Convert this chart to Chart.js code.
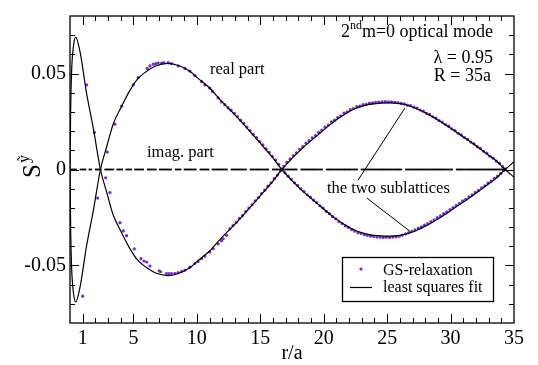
<!DOCTYPE html>
<html>
<head>
<meta charset="utf-8">
<script src="https://cdn.jsdelivr.net/npm/chart.js@4/dist/chart.umd.min.js"></script>
<style>
  html, body { margin: 0; padding: 0; background: #fff; overflow: hidden; }
  canvas { display: block; }
</style>
</head>
<body>
<canvas id="c" width="538" height="365"></canvas>
<script>
// ---- least squares fit, the two sublattices (r/a, S^y) ----
const fitR = [0, 0.05, 0.12, 0.25, 0.45, 0.8, 1.3, 1.85, 2.4, 2.9, 3.4, 4.0, 4.7, 5.3, 6.0, 6.7, 7.7, 8.7, 9.5, 10.0,
  11.0, 12.0, 13.0, 14.0, 15.0, 16.0, 16.7, 17.5, 18.5, 19.5, 20.5, 21.5, 22.5, 23.5, 24.5, 25.2, 26.0, 27.0, 28.0,
  29.0, 30.0, 31.0, 32.0, 33.0, 33.6, 34.3, 35.0];
const fitA = [0, 0.030, 0.050, 0.063, 0.069, 0.061, 0.040, 0.021, 0, -0.012, -0.0236, -0.032, -0.041, -0.047, -0.051,
  -0.0538, -0.0553, -0.0538, -0.051, -0.048, -0.0425, -0.0352, -0.0285, -0.0212, -0.0137, -0.006, 0, 0.0058, 0.0122,
  0.0178, 0.0234, 0.0282, 0.0318, 0.0338, 0.0346, 0.0347, 0.0343, 0.0326, 0.0296, 0.0258, 0.0215, 0.017, 0.0124,
  0.0074, 0.0046, 0, -0.0040];
const fitB = [0, -0.030, -0.050, -0.063, -0.069, -0.061, -0.040, -0.021, 0, 0.012, 0.0236, 0.032, 0.041, 0.047, 0.051,
  0.0538, 0.0553, 0.0538, 0.051, 0.048, 0.0425, 0.0352, 0.0285, 0.0212, 0.0137, 0.006, 0, -0.0058, -0.0122,
  -0.0178, -0.0234, -0.0282, -0.0318, -0.0338, -0.0346, -0.0347, -0.0343, -0.0326, -0.0296, -0.0258, -0.0215, -0.017,
  -0.0124, -0.0074, -0.0046, 0, 0.0040];

// ---- GS-relaxation, sublattice A ----
const gsAR = [1.31, 1.92, 2.81, 3.15, 3.94, 4.2, 4.46, 5.07, 5.59, 5.83, 6.04, 6.3, 7.03, 7.14, 7.61, 7.8, 8.0, 8.27,
  8.53, 8.8, 9.06, 9.45, 9.84, 10.1, 10.37, 10.63, 11.02, 11.29, 11.68, 11.94, 12.07, 12.34,
  12.6, 12.85, 13.1, 13.35, 13.6, 13.85, 14.1, 14.35, 14.6, 14.85, 15.1, 15.35, 15.6, 15.85, 16.1, 16.35, 16.6, 16.85,
  17.1, 17.35, 17.6, 17.85, 18.1, 18.35, 18.6, 18.85, 19.1, 19.35, 19.6, 19.85, 20.1, 20.35, 20.6, 20.85, 21.1, 21.35,
  21.6, 21.85, 22.1, 22.35, 22.6, 22.85, 23.1, 23.35, 23.6, 23.85, 24.1, 24.35, 24.6, 24.85, 25.1, 25.35, 25.6, 25.85,
  26.1, 26.35, 26.6, 26.85, 27.1, 27.35, 27.6, 27.85, 28.1, 28.35, 28.6, 28.85, 29.1, 29.35, 29.6, 29.85, 30.1, 30.35,
  30.6, 30.85, 31.1, 31.35, 31.6, 31.85, 32.1, 32.35, 32.6, 32.85, 33.1, 33.35, 33.6, 33.85, 34.1, 34.3];
const gsAS = [0.0441, 0.0193, -0.0043, -0.0120, -0.0277, -0.0320, -0.0345, -0.0414, -0.0465, -0.0477, -0.0482, -0.0503,
  -0.0528, -0.0533, -0.0542, -0.0543, -0.0542, -0.0541, -0.0537, -0.0531, -0.0524, -0.0509, -0.0490, -0.0479, -0.0465,
  -0.0451, -0.0430, -0.0413, -0.0388, -0.0371, -0.0361, -0.0343,
  -0.0309, -0.0292, -0.0276, -0.0255, -0.0240, -0.0219, -0.0201, -0.0184, -0.0163, -0.0146, -0.0125, -0.0108, -0.0087,
  -0.0069, -0.0048, -0.0029, -0.0007, 0.0016, 0.0037, 0.0055, 0.0073, 0.0087, 0.0105, 0.0119, 0.0138, 0.0150, 0.0165,
  0.0177, 0.0193, 0.0205, 0.0221, 0.0232, 0.0248, 0.0257, 0.0271, 0.0280, 0.0294, 0.0300, 0.0312, 0.0318, 0.0328,
  0.0331, 0.0338, 0.0340, 0.0346, 0.0347, 0.0350, 0.0351, 0.0352, 0.0354, 0.0352, 0.0353, 0.0350, 0.0349, 0.0345,
  0.0342, 0.0336, 0.0333, 0.0325, 0.0320, 0.0310, 0.0304, 0.0293, 0.0287, 0.0275, 0.0268, 0.0255, 0.0247, 0.0234,
  0.0226, 0.0212, 0.0203, 0.0189, 0.0180, 0.0166, 0.0157, 0.0143, 0.0134, 0.0119, 0.0110, 0.0095, 0.0085, 0.0069,
  0.0059, 0.0044, 0.0033, 0.0015, 0.0003];

// ---- GS-relaxation, sublattice B ----
const gsBR = [1.0, 2.18, 2.94, 3.54, 4.07, 4.99, 5.38, 6.09, 6.3, 6.56, 6.77, 6.95, 7.22, 7.4, 7.74, 8.0, 8.53, 9.06,
  9.45, 9.84, 10.37, 10.63, 11.02, 11.23, 11.68, 11.94, 12.2, 12.47,
  12.7, 12.95, 13.2, 13.45, 13.7, 13.95, 14.2, 14.45, 14.7, 14.95, 15.2, 15.45, 15.7, 15.95, 16.2, 16.45, 16.7, 16.95,
  17.2, 17.45, 17.7, 17.95, 18.2, 18.45, 18.7, 18.95, 19.2, 19.45, 19.7, 19.95, 20.2, 20.45, 20.7, 20.95, 21.2, 21.45,
  21.7, 21.95, 22.2, 22.45, 22.7, 22.95, 23.2, 23.45, 23.7, 23.95, 24.2, 24.45, 24.7, 24.95, 25.2, 25.45, 25.7, 25.95,
  26.2, 26.45, 26.7, 26.95, 27.2, 27.45, 27.7, 27.95, 28.2, 28.45, 28.7, 28.95, 29.2, 29.45, 29.7, 29.95, 30.2, 30.45,
  30.7, 30.95, 31.2, 31.45, 31.7, 31.95, 32.2, 32.45, 32.7, 32.95, 33.2, 33.45, 33.7, 33.95, 34.2];
const gsBS = [-0.0660, -0.0149, 0.0091, 0.0236, 0.0330, 0.0441, 0.0479, 0.0527, 0.0540, 0.0549, 0.0552, 0.0555, 0.0555,
  0.0557, 0.0557, 0.0552, 0.0540, 0.0527, 0.0513, 0.0490, 0.0458, 0.0441, 0.0424, 0.0407, 0.0373, 0.0352, 0.0338, 0.0321,
  0.0309, 0.0293, 0.0276, 0.0257, 0.0240, 0.0221, 0.0203, 0.0183, 0.0166, 0.0146, 0.0128, 0.0108, 0.0089, 0.0069,
  0.0049, 0.0027, 0.0002, -0.0017, -0.0035, -0.0051, -0.0069, -0.0083, -0.0101, -0.0115, -0.0132, -0.0144, -0.0160,
  -0.0173, -0.0189, -0.0201, -0.0218, -0.0230, -0.0246, -0.0257, -0.0271, -0.0282, -0.0294, -0.0302, -0.0313, -0.0321,
  -0.0329, -0.0333, -0.0340, -0.0343, -0.0348, -0.0349, -0.0352, -0.0353, -0.0354, -0.0353, -0.0354, -0.0352, -0.0351,
  -0.0348, -0.0342, -0.0336, -0.0329, -0.0322, -0.0315, -0.0306, -0.0299, -0.0290, -0.0282, -0.0271, -0.0263, -0.0251,
  -0.0242, -0.0230, -0.0221, -0.0209, -0.0199, -0.0187, -0.0177, -0.0164, -0.0155, -0.0142, -0.0132, -0.0119, -0.0109,
  -0.0096, -0.0085, -0.0071, -0.0060, -0.0046, -0.0035, -0.0020, -0.0005];

// ---- GS-relaxation, imaginary part (zero at every site) ----
const imagR = [0.15, 0.4, 0.9, 1.15, 1.6, 2.1, 2.35, 2.85, 3.1, 3.35, 3.8, 4.05, 4.5, 4.75, 5.2, 5.45, 5.7, 6.2, 6.45,
  6.7, 7.15, 7.4, 7.65, 7.9, 8.4, 8.65, 9.1, 9.35, 9.6, 9.85, 10.35, 10.6, 10.85, 11.3, 11.55, 11.8, 12.05, 12.3, 12.8,
  13.05, 13.3, 13.55, 13.8, 14.3, 14.55, 14.8, 15.05, 15.3, 15.55, 16.05, 16.3, 16.55, 16.8, 17.05, 17.3, 17.55, 17.8,
  18.3, 18.55, 18.8, 19.05, 19.3, 19.55, 19.8, 20.3, 20.55, 20.8, 21.05, 21.3, 21.55, 21.8, 22.05, 22.3, 22.55, 23.05,
  23.3, 23.55, 23.8, 24.05, 24.3, 24.55, 24.8, 25.05, 25.3, 25.55, 25.8, 26.05, 26.55, 26.8, 27.05, 27.3, 27.55, 27.8,
  28.05, 28.3, 28.55, 28.8, 29.05, 29.3, 29.55, 29.8, 30.05, 30.55, 30.8, 31.05, 31.3, 31.55, 31.8, 32.05, 32.3, 32.55,
  32.8, 33.05, 33.3, 33.55, 33.8, 34.05, 34.25];
const imagLevel = 0;

// ---- axes ----
const xTickLabels = [1, 5, 10, 15, 20, 25, 30, 35];
const yTickLabels = [-0.05, 0, 0.05];
const X_MIN = 0, X_MAX = 35, Y_MIN = -0.08, Y_MAX = 0.08;

const pts = (xs, ys) => xs.map((x, i) => ({ x, y: ys[i] }));
const PURPLE = '#7430c6';
const SERIF = '"Liberation Serif", "Times New Roman", serif';

const decorations = {
  id: 'decorations',
  afterDatasetsDraw(chart) {
    const { ctx, chartArea: a, scales: { x, y } } = chart;
    ctx.save();
    ctx.strokeStyle = '#000';
    ctx.lineWidth = 1;
    // inward ticks on all four sides
    const tick = (px, len, side) => {
      ctx.beginPath();
      if (side === 'b') { ctx.moveTo(px, a.bottom); ctx.lineTo(px, a.bottom - len); }
      if (side === 't') { ctx.moveTo(px, a.top); ctx.lineTo(px, a.top + len); }
      if (side === 'l') { ctx.moveTo(a.left, px); ctx.lineTo(a.left + len, px); }
      if (side === 'r') { ctx.moveTo(a.right, px); ctx.lineTo(a.right - len, px); }
      ctx.stroke();
    };
    for (let v = 1; v < X_MAX; v++) {
      const major = xTickLabels.includes(v);
      const px = Math.round(x.getPixelForValue(v)) + 0.5;
      tick(px, major ? 9 : 5, 'b');
      tick(px, major ? 9 : 5, 't');
    }
    for (let k = -7; k <= 7; k++) {
      const v = k / 100;
      const major = k % 5 === 0;
      const py = Math.round(y.getPixelForValue(v)) + 0.5;
      tick(py, major ? 9 : 5, 'l');
      tick(py, major ? 9 : 5, 'r');
    }
    // frame
    ctx.lineWidth = 1.3;
    ctx.strokeRect(a.left, a.top, a.right - a.left, a.bottom - a.top);

    // leader lines for "the two sublattices"
    ctx.lineWidth = 1;
    const seg = (x0, y0, x1, y1) => {
      ctx.beginPath();
      ctx.moveTo(x.getPixelForValue(x0), y.getPixelForValue(y0));
      ctx.lineTo(x.getPixelForValue(x1), y.getPixelForValue(y1));
      ctx.stroke();
    };
    seg(22.7, -0.0056, 26.4, 0.0320);
    seg(23.4, -0.0149, 26.8, -0.0322);

    // text
    ctx.fillStyle = '#000';
    ctx.textBaseline = 'alphabetic';
    ctx.font = '16.5px ' + SERIF;
    ctx.textAlign = 'left';
    ctx.fillText('real part', 210, 74);
    ctx.fillText('imag. part', 147, 157);
    ctx.fillText('the two sublattices', 327, 193);

    ctx.textAlign = 'right';
    ctx.font = '18px ' + SERIF;
    const t1 = 'm=0 optical mode';
    ctx.fillText(t1, 493, 37);
    const w1 = ctx.measureText(t1).width;
    ctx.font = '12px ' + SERIF;
    ctx.fillText('nd', 493 - w1, 29);
    const w2 = ctx.measureText('nd').width;
    ctx.font = '18px ' + SERIF;
    ctx.fillText('2', 493 - w1 - w2, 37);
    ctx.fillText('\u03bb = 0.95', 493, 63);
    ctx.fillText('R = 35a', 491, 81);

    // legend box
    ctx.fillStyle = '#fff';
    ctx.fillRect(342, 257, 151, 44);
    ctx.lineWidth = 1.3;
    ctx.strokeRect(342.5, 257.5, 151, 44);
    ctx.fillStyle = PURPLE;
    ctx.beginPath();
    ctx.arc(361, 269, 1.6, 0, Math.PI * 2);
    ctx.fill();
    ctx.strokeStyle = '#000';
    ctx.lineWidth = 1.2;
    ctx.beginPath();
    ctx.moveTo(350, 287.5);
    ctx.lineTo(372, 287.5);
    ctx.stroke();
    ctx.fillStyle = '#000';
    ctx.textAlign = 'left';
    ctx.font = '16px ' + SERIF;
    ctx.fillText('GS-relaxation', 383, 275);
    ctx.fillText('least squares fit', 383, 292);

    // axis titles
    ctx.textAlign = 'center';
    ctx.font = '20px ' + SERIF;
    ctx.fillText('r/a', (a.left + a.right) / 2, 359);

    ctx.save();
    ctx.translate(40, 178);
    ctx.rotate(-Math.PI / 2);
    ctx.textAlign = 'left';
    ctx.font = '25px ' + SERIF;
    ctx.fillText('S', 0, 0);
    const ws = ctx.measureText('S').width;
    ctx.font = '16px ' + SERIF;
    ctx.fillText('\u1ef9', ws + 1, -11);
    ctx.restore();

    ctx.restore();
  }
};

new Chart(document.getElementById('c'), {
  type: 'scatter',
  data: {
    datasets: [
      { label: 'least squares fit', data: pts(fitR, fitA), showLine: true, borderColor: '#000', borderWidth: 1.2,
        pointRadius: 0, cubicInterpolationMode: 'monotone', order: 0 },
      { label: 'least squares fit B', data: pts(fitR, fitB), showLine: true, borderColor: '#000', borderWidth: 1.2,
        pointRadius: 0, cubicInterpolationMode: 'monotone', order: 0 },
      { label: 'GS-relaxation', data: pts(gsAR, gsAS), pointRadius: 1.6, pointBackgroundColor: PURPLE,
        pointBorderWidth: 0, order: 2 },
      { label: 'GS-relaxation B', data: pts(gsBR, gsBS), pointRadius: 1.6, pointBackgroundColor: PURPLE,
        pointBorderWidth: 0, order: 2 },
      { label: 'imag. part', data: imagR.map(r => ({ x: r, y: imagLevel })), pointStyle: 'line', pointRadius: 1.7,
        pointBorderColor: '#000', pointBorderWidth: 1.8, order: 1 }
    ]
  },
  options: {
    responsive: false,
    animation: false,
    devicePixelRatio: 1,
    layout: { padding: { left: 0, right: 24, top: 11, bottom: 0 } },
    plugins: { legend: { display: false }, tooltip: { enabled: false } },
    scales: {
      x: {
        type: 'linear', min: X_MIN, max: X_MAX,
        grid: { display: false, drawTicks: false }, border: { display: false },
        afterBuildTicks: s => { s.ticks = xTickLabels.map(v => ({ value: v })); },
        afterFit: s => { s.height = 42; },
        ticks: { color: '#000', font: { family: SERIF, size: 20 }, padding: 4, maxRotation: 0,
          callback: v => String(v) }
      },
      y: {
        type: 'linear', min: Y_MIN, max: Y_MAX,
        grid: { display: false, drawTicks: false }, border: { display: false },
        afterBuildTicks: s => { s.ticks = yTickLabels.map(v => ({ value: v })); },
        afterFit: s => { s.width = 70; },
        ticks: { color: '#000', font: { family: SERIF, size: 20 }, padding: 4,
          callback: v => (v === 0 ? '0' : v.toFixed(2)) }
      }
    }
  },
  plugins: [decorations]
});
</script>
</body>
</html>
